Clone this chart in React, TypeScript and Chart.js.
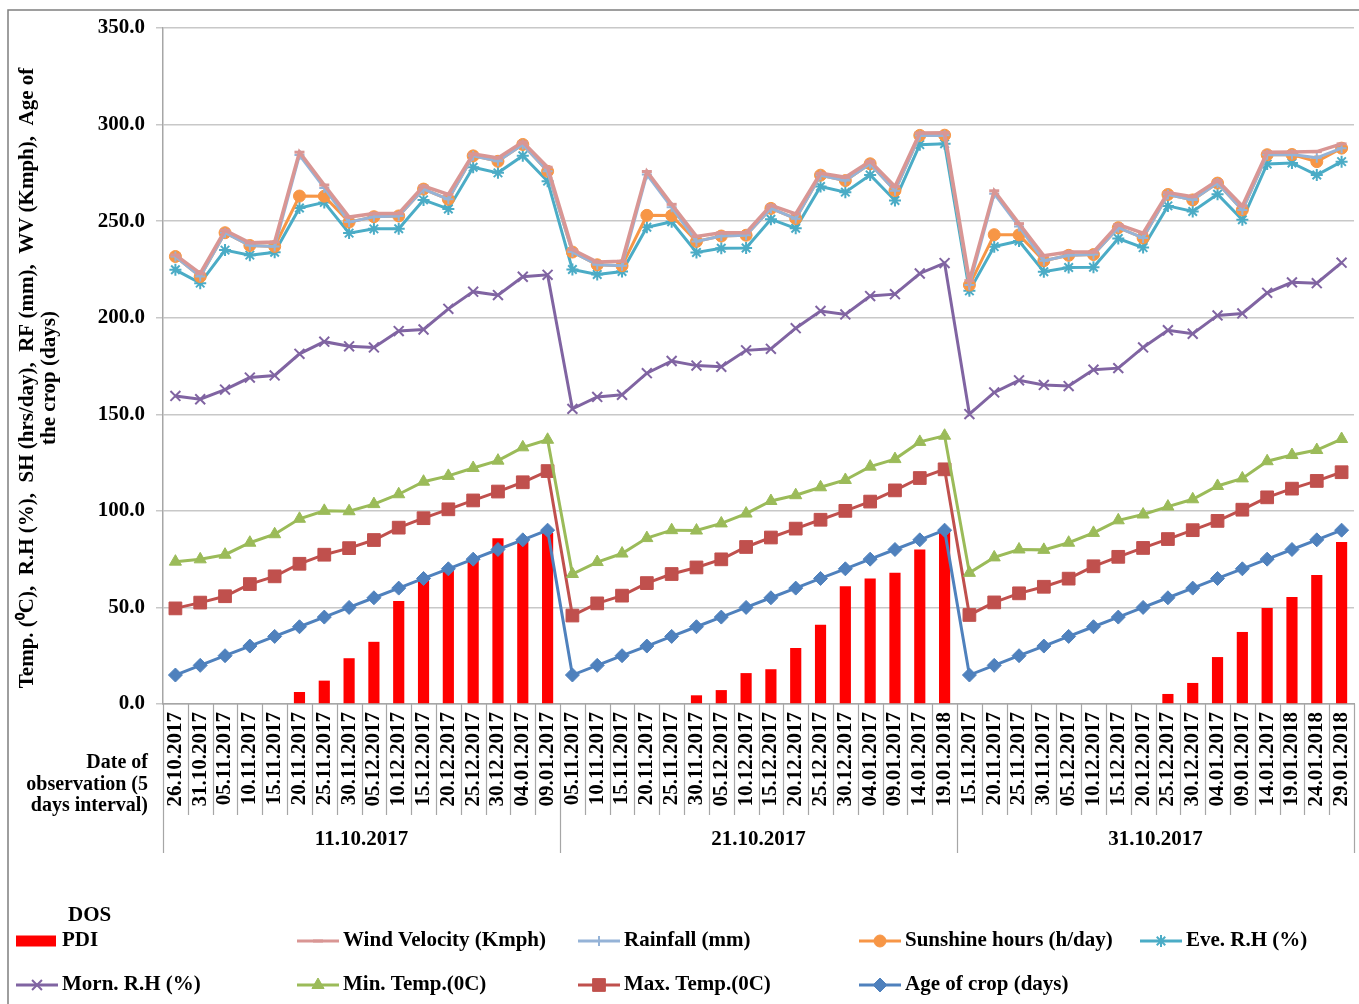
import React, { useEffect, useRef } from 'react';
import { Chart, registerables } from 'chart.js';
import { drawPoint } from 'chart.js/helpers';

Chart.register(...registerables);

// ---------------- data ----------------
const SOWING_DATES = ['11.10.2017', '21.10.2017', '31.10.2017'];

const OBSERVATION_DATES = [
  '26.10.2017', '31.10.2017', '05.11.2017', '10.11.2017', '15.11.2017',
  '20.11.2017', '25.11.2017', '30.11.2017', '05.12.2017', '10.12.2017',
  '15.12.2017', '20.12.2017', '25.12.2017', '30.12.2017', '04.01.2017',
  '09.01.2017', '14.01.2017', '19.01.2018', '24.01.2018', '29.01.2018',
];

// index (in OBSERVATION_DATES) of the first observation for each date of sowing
const FIRST_OBSERVATION = [0, 2, 4];

const AGE_OF_CROP = [15, 20, 25, 30, 35, 40, 45, 50, 55, 60, 65, 70, 75, 80, 85, 90];

// weather, one value per observation date
const MAX_TEMP = [34.5, 32.5, 30.8, 32.1, 31.1, 32.6, 32.3, 30.7, 29.9, 31.3, 31.2, 30.8, 30.4, 30.0, 29.8, 30.6, 32.0, 31.5, 30.5, 30.0];
const MIN_TEMP = [24.2, 22.4, 21.5, 21.4, 21.8, 23.3, 22.7, 19.1, 18.6, 17.3, 18.9, 17.3, 16.8, 16.0, 18.1, 16.2, 18.7, 17.4, 16.0, 17.2];
const MORN_RH = [85.8, 82.9, 85.5, 85.5, 82.2, 85.4, 87.6, 85.4, 81.1, 84.5, 78.8, 86.5, 91.3, 85.7, 88.3, 85.4, 87.2, 89.4, 86.4, 91.3];
const EVE_RH = [65.3, 60.1, 72.2, 63.4, 63.8, 75.5, 72.1, 58.6, 61.4, 53.0, 67.1, 51.7, 64.4, 63.3, 62.7, 48.5, 66.7, 61.8, 56.0, 52.3];
const SUNSHINE = [6.9, 3.4, 9.0, 5.0, 3.0, 6.2, 3.2, 5.7, 6.3, 6.6, 5.6, 5.0, 5.9, 6.0, 5.8, 5.1, 4.8, 4.4, 6.9, 7.0];
const RAINFALL = [0, 0, 0, 0, 0, 21.2, 4.3, 0, 0, 0, 0, 0, 0, 0, 0, 0, 0, 0, 2.0, 0];
const WIND_VELOCITY = [0.8, 1.7, 1.3, 1.4, 2.3, 1.5, 1.5, 2.6, 1.7, 1.3, 1.6, 2.5, 1.0, 1.7, 1.3, 2.1, 1.3, 1.3, 3.2, 2.2];

// PDI per date of sowing (16 observations each)
const PDI_11_10 = [0, 0, 0, 0, 0, 6.2, 12.1, 23.7, 32.2, 53.3, 65.0, 69.5, 74.5, 85.8, 85.5, 88.5];
const PDI_21_10 = [0, 0, 0, 0, 0, 4.5, 7.2, 16.0, 18.0, 29.0, 41.0, 61.0, 65.0, 68.0, 80.0, 90.0];
const PDI_31_10 = [0, 0, 0, 0, 0, 0, 0, 0, 5.2, 10.9, 24.3, 37.3, 49.7, 55.4, 66.8, 83.9];

const Y_TITLE = ['Temp. (\u2070C),  R.H (%),  SH (hrs/day),  RF (mm),  WV (Kmph),  Age of', 'the crop (days)'];
const X_CAPTION = ['Date of', 'observation (5', 'days interval)'];
const LEGEND_TITLE = 'DOS';

// ---------------- helpers ----------------
function bySowing<T>(byDate: T[]): T[] {
  return FIRST_OBSERVATION.flatMap((s) => byDate.slice(s, s + AGE_OF_CROP.length));
}

const LABELS = bySowing(OBSERVATION_DATES);
const PER_GROUP = AGE_OF_CROP.length;

const FONT = "'Liberation Serif', 'Times New Roman', serif";
const PLOT_RIGHT_GAP = 5;

type LineSeries = {
  label: string;
  data: number[];
  color: string;
  pointStyle: string;
  radius: number;
  pointBorderWidth: number;
  lineWidth: number;
};

// stacking order: first = bottom of the stack
const LINE_SERIES: LineSeries[] = [
  { label: 'Age of crop (days)', data: FIRST_OBSERVATION.flatMap(() => AGE_OF_CROP), color: '#4F81BD', pointStyle: 'rectRot', radius: 7, pointBorderWidth: 1, lineWidth: 3 },
  { label: 'Max. Temp.(0C)', data: bySowing(MAX_TEMP), color: '#C0504D', pointStyle: 'rect', radius: 9, pointBorderWidth: 1, lineWidth: 3 },
  { label: 'Min. Temp.(0C)', data: bySowing(MIN_TEMP), color: '#9BBB59', pointStyle: 'triangle', radius: 7, pointBorderWidth: 1, lineWidth: 3 },
  { label: 'Morn. R.H (%)', data: bySowing(MORN_RH), color: '#8064A2', pointStyle: 'crossRot', radius: 7, pointBorderWidth: 2, lineWidth: 3 },
  { label: 'Eve. R.H (%)', data: bySowing(EVE_RH), color: '#4BACC6', pointStyle: 'star', radius: 6, pointBorderWidth: 2, lineWidth: 3 },
  { label: 'Sunshine hours (h/day)', data: bySowing(SUNSHINE), color: '#F79646', pointStyle: 'circle', radius: 6, pointBorderWidth: 1, lineWidth: 3 },
  { label: 'Rainfall (mm)', data: bySowing(RAINFALL), color: '#95B3D7', pointStyle: 'cross', radius: 5, pointBorderWidth: 2, lineWidth: 3 },
  { label: 'Wind Velocity (Kmph)', data: bySowing(WIND_VELOCITY), color: '#D99694', pointStyle: 'line', radius: 5, pointBorderWidth: 3, lineWidth: 3.5 },
];

const PDI_LABEL = 'PDI';
const PDI_COLOR = '#FF0000';

// legend layout: [label, column, row]
const LEGEND_COLS = [16, 297, 578, 859, 1140];
const LEGEND_ROWS = [941, 985];
const LEGEND_ITEMS: [string, number, number][] = [
  ['PDI', 0, 0],
  ['Wind Velocity (Kmph)', 1, 0],
  ['Rainfall (mm)', 2, 0],
  ['Sunshine hours (h/day)', 3, 0],
  ['Eve. R.H (%)', 4, 0],
  ['Morn. R.H (%)', 0, 1],
  ['Min. Temp.(0C)', 1, 1],
  ['Max. Temp.(0C)', 2, 1],
  ['Age of crop (days)', 3, 1],
];

const decorations = {
  id: 'decorations',
  afterLayout(chart: any) {
    // stretch the plot area to the right edge like the original
    const target = chart.width - PLOT_RIGHT_GAP;
    const area = chart.chartArea;
    if (Math.abs(area.right - target) > 0.5) {
      area.right = target;
      area.width = target - area.left;
      const x = chart.scales.x;
      x.right = target;
      x.width = target - x.left;
      x.configure();
      const y = chart.scales.y;
      y.configure();
    }
  },
  beforeDatasetDraw(chart: any, args: any) {
    if (chart.data.datasets[args.index].type === 'line') return false;
    return true;
  },
  afterDatasetsDraw(chart: any) {
    // lines drawn in stacking order so the top series sits on top
    chart.data.datasets.forEach((ds: any, i: number) => {
      if (ds.type === 'line' && chart.isDatasetVisible(i)) {
        chart.getDatasetMeta(i).controller.draw();
      }
    });
  },
  afterDraw(chart: any) {
    const { ctx, chartArea } = chart;
    const x = chart.scales.x;
    const n = LABELS.length;
    ctx.save();

    // outer frame
    ctx.strokeStyle = '#7f7f7f';
    ctx.lineWidth = 1.5;
    ctx.strokeRect(8, 10, 1400, 1100);

    // y axis title (two rotated lines)
    ctx.fillStyle = '#000';
    ctx.font = `bold 21px ${FONT}`;
    ctx.textAlign = 'center';
    ctx.textBaseline = 'middle';
    Y_TITLE.forEach((t, k) => {
      ctx.save();
      ctx.translate(28 + k * 22, 378);
      ctx.rotate(-Math.PI / 2);
      ctx.fillText(t, 0, 0);
      ctx.restore();
    });

    // category separators below the axis
    ctx.strokeStyle = '#a6a6a6';
    ctx.lineWidth = 1.2;
    for (let i = 0; i <= n; i++) {
      const px = Math.round(x.getPixelForValue(i - 0.5)) + 0.5;
      const groupEdge = i % PER_GROUP === 0;
      ctx.beginPath();
      ctx.moveTo(px, chartArea.bottom);
      ctx.lineTo(px, chartArea.bottom + (groupEdge ? 149 : 111));
      ctx.stroke();
    }

    // sowing date labels
    ctx.fillStyle = '#000';
    ctx.font = `bold 21px ${FONT}`;
    ctx.textAlign = 'center';
    ctx.textBaseline = 'middle';
    SOWING_DATES.forEach((d, g) => {
      const px = x.getPixelForValue(g * PER_GROUP + (PER_GROUP - 1) / 2);
      ctx.fillText(d, px, chartArea.bottom + 136);
    });

    // axis caption
    ctx.textAlign = 'right';
    ctx.font = `bold 20px ${FONT}`;
    X_CAPTION.forEach((t, k) => ctx.fillText(t, 148, 763 + k * 21.5));

    // legend
    ctx.textAlign = 'left';
    ctx.font = `bold 21px ${FONT}`;
    ctx.fillText(LEGEND_TITLE, 68, 916);
    LEGEND_ITEMS.forEach(([label, c, r]) => {
      const cx = LEGEND_COLS[c];
      const cy = LEGEND_ROWS[r];
      if (label === PDI_LABEL) {
        ctx.fillStyle = PDI_COLOR;
        ctx.fillRect(cx, cy - 5.5, 40, 11);
      } else {
        const s = LINE_SERIES.find((q) => q.label === label)!;
        ctx.strokeStyle = s.color;
        ctx.lineWidth = 3;
        ctx.beginPath();
        ctx.moveTo(cx, cy);
        ctx.lineTo(cx + 42, cy);
        ctx.stroke();
        ctx.fillStyle = s.color;
        ctx.strokeStyle = s.color;
        ctx.lineWidth = s.pointBorderWidth;
        drawPoint(ctx, { pointStyle: s.pointStyle as any, radius: s.radius, borderWidth: s.pointBorderWidth, rotation: 0 }, cx + 21, cy);
      }
      ctx.fillStyle = '#000';
      ctx.fillText(label, cx + 46, cy);
    });

    ctx.restore();
  },
};

export default function App() {
  const ref = useRef<HTMLCanvasElement>(null);

  useEffect(() => {
    const canvas = ref.current;
    if (!canvas) return;

    const datasets: any[] = LINE_SERIES.map((s) => ({
      type: 'line',
      label: s.label,
      data: s.data,
      stack: 'weather',
      borderColor: s.color,
      backgroundColor: s.color,
      borderWidth: s.lineWidth,
      pointStyle: s.pointStyle,
      pointRadius: s.radius,
      pointBackgroundColor: s.color,
      pointBorderColor: s.color,
      pointBorderWidth: s.pointBorderWidth,
      tension: 0,
      fill: false,
    }));
    datasets.push({
      type: 'bar',
      label: PDI_LABEL,
      data: [...PDI_11_10, ...PDI_21_10, ...PDI_31_10],
      stack: 'pdi',
      backgroundColor: PDI_COLOR,
      borderWidth: 0,
      barPercentage: 0.45,
      categoryPercentage: 1,
    });

    const chart = new Chart(canvas, {
      type: 'line',
      data: { labels: LABELS, datasets },
      plugins: [decorations],
      options: {
        animation: false,
        responsive: true,
        maintainAspectRatio: false,
        events: [],
        layout: { padding: { top: 28, right: PLOT_RIGHT_GAP, left: 0, bottom: 0 } },
        plugins: { legend: { display: false }, tooltip: { enabled: false } },
        scales: {
          x: {
            type: 'category',
            offset: true,
            grid: { display: false, drawTicks: false },
            border: { display: true, color: '#a6a6a6', width: 1.5 },
            ticks: {
              autoSkip: false,
              minRotation: 90,
              maxRotation: 90,
              padding: 8,
              color: '#000',
              font: { family: FONT, weight: 'bold', size: 21 },
            },
            afterFit: (scale: any) => {
              scale.height = 300;
              scale.paddingLeft = 0;
              scale.paddingRight = 0;
            },
          },
          y: {
            stacked: true,
            min: 0,
            max: 350,
            ticks: {
              stepSize: 50,
              padding: 11,
              color: '#000',
              font: { family: FONT, weight: 'bold', size: 21 },
              callback: (v: any) => Number(v).toFixed(1),
            },
            grid: { color: '#c8c8c8', lineWidth: 1.5, drawTicks: true, tickLength: 7 },
            border: { display: true, color: '#a6a6a6', width: 1.5 },
            title: { display: false },
            afterFit: (scale: any) => {
              scale.width = 163;
            },
          },
        },
      } as any,
    });

    return () => chart.destroy();
  }, []);

  return (
    <div style={{ position: 'absolute', left: 0, top: 0, width: 1359, height: 1004, background: '#fff' }}>
      <canvas ref={ref} />
    </div>
  );
}
